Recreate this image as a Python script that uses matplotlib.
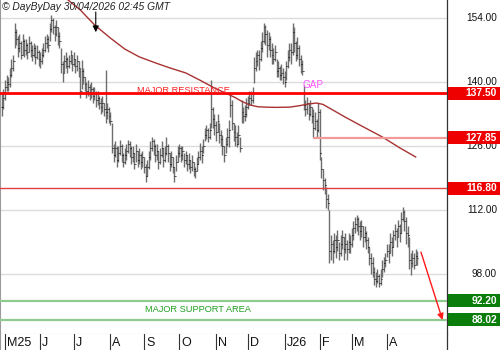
import matplotlib
matplotlib.use("Agg")
import matplotlib.pyplot as plt
import matplotlib.transforms as mtransforms
from matplotlib.patches import Rectangle
import pandas as pd

plt.rcParams['font.family'] = ['Liberation Sans', 'DejaVu Sans']

# ---------------- data ----------------
start_date = "2025-04-29"

closes = [
    134.5, 136.5, 139.0, 140.0, 139.5, 141.5, 143.0, 144.5,
    151.0, 149.5, 147.5, 148.5, 146.0, 149.0, 147.0, 148.0, 146.5, 148.5, 147.0,
    146.0, 147.5, 145.5, 146.5, 145.0, 144.5,
    146.0, 147.0, 148.5, 149.5, 148.0,
    151.5, 153.5, 152.0, 150.5, 152.0, 150.0, 149.0,
    144.0, 142.0, 144.5,
    145.0, 143.5, 144.5, 146.0, 144.0, 145.0, 143.5, 144.5, 143.0,
    138.0, 142.5, 141.0,
    139.5, 138.0, 139.0, 137.5, 138.5, 137.0, 137.5,
    136.0, 136.5, 135.5, 134.5, 135.5, 134.0,
    133.5, 134.0, 132.5, 131.5,
    125.5, 124.0, 125.5, 123.0, 124.5, 126.0, 124.0, 122.5, 124.0,
    125.0, 126.5, 125.5, 123.5, 124.5, 122.0, 125.0, 123.0, 124.0,
    122.5, 123.5, 121.5, 119.5, 121.5, 123.5,
    125.5, 127.0, 126.0, 124.0, 125.0, 122.5, 124.0, 125.5, 123.0, 124.5,
    126.0, 124.5, 122.0, 123.5, 121.5, 119.5,
    122.5, 124.5, 125.5, 124.0, 125.0, 123.0, 124.0,
    122.0, 123.0, 121.5, 122.5, 121.0, 120.5,
    122.0, 123.5, 125.0, 124.0, 126.0, 128.5, 129.5, 128.0, 129.5,
    134.0, 132.0, 130.5, 129.0, 131.5, 128.5, 127.5,
    126.0, 124.0, 126.5, 128.0, 129.5,
    135.0, 131.0, 129.0, 128.0, 126.5, 128.5, 125.5,
    133.5, 132.5, 133.0, 134.5, 135.5, 136.5, 136.0, 137.5,
    143.0, 144.5, 146.0, 145.0, 147.5, 149.0, 152.0, 150.5,
    148.0, 149.5, 147.0, 146.0, 145.0, 146.5,
    142.5, 143.0, 141.5, 142.0, 141.0, 140.0,
    143.5, 145.5, 147.0, 146.5, 151.0, 148.5, 146.0, 147.5, 145.0, 144.0, 142.5,
    135.0, 134.0, 135.5, 133.0, 134.5, 132.5, 130.0, 131.5, 129.5, 133.5,
    124.5, 121.0, 118.5, 117.5, 114.5, 113.5,
    103.0, 104.5, 103.0, 105.5, 104.0, 105.5, 102.5, 104.5, 106.0, 103.5, 104.5, 103.5, 105.0, 104.5,
    106.5, 108.0, 109.0, 110.0, 108.5, 107.5, 108.5, 106.0, 107.0, 105.5, 104.0,
    101.5, 100.5, 98.5, 97.0, 96.5, 97.5, 96.0, 97.0, 99.0, 100.5, 101.0,
    103.0, 102.5, 105.0, 104.0, 106.5, 107.5, 106.0, 108.5, 107.0,
    110.0, 111.5, 109.5, 107.0, 106.5, 101.0, 100.5, 101.5, 100.0, 102.0, 101.5,
]

highs = [
    137.5, 138.5, 140.5, 141.5, 141.0, 143.0, 145.0, 146.0,
    153.0, 151.5, 150.0, 150.5, 149.0, 150.5, 149.5, 149.5, 148.5, 150.0, 149.0,
    148.0, 148.5, 148.0, 148.0, 147.0, 146.5,
    147.5, 148.5, 150.0, 150.5, 150.0,
    153.0, 154.7, 154.0, 152.5, 153.5, 152.0, 151.0,
    147.5, 144.5, 146.0,
    146.5, 145.5, 146.0, 147.0, 146.0, 146.5, 145.0, 146.0, 144.5,
    143.0, 144.8, 143.0,
    141.0, 140.0, 140.5, 139.5, 140.0, 139.0, 139.0,
    138.0, 138.0, 137.0, 136.5, 137.0, 135.5,
    142.6, 135.5, 134.5, 133.5,
    131.0, 126.5, 127.0, 126.0, 126.0, 127.3, 126.5, 124.5, 125.5,
    126.5, 127.3, 127.0, 126.0, 126.0, 124.5, 126.5, 125.0, 125.5,
    124.5, 125.0, 123.5, 122.0, 123.0, 125.0,
    127.0, 128.0, 127.5, 126.5, 126.5, 125.0, 125.5, 127.0, 125.5, 126.0,
    128.0, 126.5, 124.5, 125.0, 123.5, 121.5,
    124.0, 126.0, 126.5, 126.0, 126.0, 124.5, 125.0,
    124.0, 124.5, 123.0, 124.0, 122.5, 121.5,
    123.5, 125.0, 126.7, 126.0, 127.5, 130.0, 130.6, 130.0, 131.0,
    140.4, 134.5, 133.0, 131.5, 133.0, 131.0, 129.5,
    128.5, 126.0, 128.0, 130.0, 131.7,
    137.6, 136.0, 131.0, 130.5, 129.0, 130.5, 128.0,
    136.0, 134.5, 135.0, 136.5, 137.0, 138.0, 138.0, 139.0,
    145.5, 146.5, 147.0, 147.0, 149.0, 151.0, 153.0, 152.5,
    151.4, 151.0, 150.0, 148.5, 147.5, 148.0,
    145.0, 144.5, 143.5, 144.0, 143.0, 142.5,
    144.5, 147.0, 148.5, 148.5, 153.0, 152.0, 149.0, 149.8, 148.0, 146.0, 144.8,
    139.3, 136.0, 136.7, 135.5, 136.0, 134.5, 134.0, 133.5, 132.0, 135.4,
    134.0, 123.6, 121.0, 119.0, 117.0, 115.5,
    112.0, 106.5, 105.5, 107.0, 106.5, 107.6, 105.0, 106.5, 107.6, 106.0, 107.0, 105.5, 107.0, 106.5,
    108.0, 109.5, 110.5, 110.9, 110.5, 109.5, 109.8, 108.5, 108.5, 107.5, 106.0,
    104.0, 102.5, 101.7, 99.5, 98.5, 99.0, 98.0, 99.0, 101.0, 101.7, 102.5,
    104.5, 104.5, 107.0, 106.0, 107.6, 109.0, 108.0, 109.8, 109.0,
    111.5, 112.7, 112.0, 110.5, 108.5, 106.0, 102.5, 103.2, 102.5, 103.5, 103.0,
]

lows = [
    132.5, 134.0, 136.0, 138.0, 138.0, 139.0, 141.0, 142.5,
    147.5, 148.0, 145.5, 146.5, 145.0, 146.0, 145.5, 146.0, 145.0, 146.5, 145.5,
    144.5, 145.5, 144.0, 145.0, 143.5, 143.0,
    144.0, 145.5, 146.5, 147.5, 146.5,
    149.0, 151.0, 150.5, 149.0, 150.0, 148.0, 147.5,
    142.0, 140.0, 142.0,
    143.0, 142.0, 143.0, 144.0, 142.5, 143.5, 142.0, 142.5, 141.0,
    136.5, 138.5, 139.5,
    138.0, 136.5, 137.0, 136.0, 136.5, 135.5, 136.0,
    134.5, 135.0, 134.0, 133.0, 133.5, 132.5,
    131.0, 132.0, 131.0, 130.5,
    124.5, 122.5, 123.5, 121.5, 122.5, 124.0, 122.5, 121.5, 122.0,
    123.0, 124.5, 123.5, 122.0, 122.5, 121.0, 122.5, 121.5, 122.0,
    121.0, 121.5, 120.0, 118.1, 119.5, 121.0,
    123.0, 125.0, 124.0, 122.5, 123.0, 121.0, 122.0, 123.5, 121.5, 122.5,
    124.0, 122.5, 120.5, 121.5, 120.0, 118.1,
    120.5, 122.5, 123.5, 122.5, 123.0, 121.5, 122.0,
    120.5, 121.0, 120.0, 120.5, 119.5, 119.0,
    120.5, 122.0, 123.0, 122.3, 124.5, 127.0, 127.5, 126.9, 127.5,
    130.0, 130.0, 128.5, 127.0, 129.0, 126.7, 126.0,
    124.0, 122.5, 124.5, 126.0, 125.8,
    132.3, 129.5, 127.0, 126.0, 125.8, 126.5, 124.7,
    131.0, 131.0, 131.5, 132.3, 134.0, 135.0, 135.0, 135.5,
    139.8, 142.5, 143.5, 142.6, 144.5, 146.5, 148.5, 148.0,
    145.5, 147.0, 145.5, 144.0, 144.0, 144.5,
    141.0, 141.0, 140.4, 140.5, 139.5, 138.9,
    140.5, 143.0, 144.5, 144.0, 146.0, 146.5, 144.5, 145.0, 143.5, 142.0, 141.5,
    133.9, 132.5, 133.0, 131.7, 132.5, 131.0, 128.0, 129.5, 128.0, 129.0,
    123.0, 119.0, 116.4, 115.5, 112.5, 112.0,
    100.4, 101.0, 100.5, 102.5, 101.5, 103.0, 101.0, 102.0, 103.5, 101.0, 102.5, 101.0, 102.6, 102.5,
    104.0, 105.5, 107.0, 107.5, 106.5, 105.5, 106.0, 104.0, 105.0, 103.5, 102.6,
    100.0, 98.0, 97.3, 95.5, 95.2, 96.0, 95.2, 95.5, 97.3, 98.5, 99.5,
    101.7, 100.5, 102.5, 102.0, 104.0, 105.5, 104.0, 106.0, 105.0,
    107.0, 109.5, 107.5, 104.5, 104.0, 99.0, 97.8, 99.5, 99.0, 100.0, 100.0,
]

# moving average (bar index, value)
ma_idx = [36, 43, 49, 58, 68, 77, 86, 96, 105, 115, 124, 133, 140, 146, 150, 155,
          160, 165, 172, 180, 186, 192, 197, 201, 205, 210, 215, 224, 231, 238, 244,
          249, 259]
ma_val = [159.5, 157.5, 155.8, 152.5, 149.6, 147.2, 145.5, 144.2, 143.1, 142.0, 140.4,
          138.7, 137.6, 136.6, 135.8, 135.0, 134.6, 134.5, 134.45, 134.5, 134.8, 135.2,
          135.4, 135.1, 134.3, 133.3, 132.3, 130.6, 129.3, 128.0, 126.7, 125.6, 123.6]

grid_levels = [98, 112, 126, 140, 154]
resistance = 137.50
level_2 = 127.85
level_3 = 116.80
support_hi = 92.20
support_lo = 88.02
month_labels = ['M25', 'J', 'J', 'A', 'S', 'O', 'N', 'D', 'J26', 'F', 'M', 'A']

# ---------------- figure ----------------
W, H = 500, 350
fig = plt.figure(figsize=(W / 100, H / 100), dpi=100)
fig.patch.set_facecolor('white')

plot_right = 447
strip_h = 16
ax = fig.add_axes([0, strip_h / H, plot_right / W, (H - strip_h) / H])
axs = fig.add_axes([0, 0, plot_right / W, strip_h / H], sharex=ax)

n = len(closes)
dates = pd.bdate_range(start_date, periods=n)
x = list(range(n))

ax.set_xlim(-1.13, 278.6)
ax.set_ylim(84.875, 157.94)

for g in grid_levels:
    ax.axhline(g, color='#dcdcdc', lw=1.0, zorder=0)

# OHLC bars
opens = [closes[0]] + closes[:-1]
ax.vlines(x, lows, highs, color='#6e6e6e', lw=1.0, zorder=3)
ax.hlines(opens, [i - 0.6 for i in x], x, color='#1a1a1a', lw=0.6, zorder=3)
ax.hlines(closes, x, [i + 0.6 for i in x], color='#1a1a1a', lw=0.6, zorder=3)

# moving average
ax.plot(ma_idx, ma_val, color='#a83232', lw=1.0, zorder=4, solid_joinstyle='round')

# horizontal levels
ax.axhline(resistance, color='#ff0000', lw=2.0, zorder=5)
ax.hlines(level_2, 194.7, 278.6, color='#f29a9a', lw=1.6, zorder=5)
ax.axhline(level_3, color='#e04040', lw=1.0, zorder=5)
ax.axhline(support_hi, color='#8fcb8f', lw=1.6, zorder=5)
ax.axhline(support_lo, color='#8fcb8f', lw=1.6, zorder=5)

ax.text(84.6, 137.62, 'MAJOR RESISTANCE', color='#ff2020', fontsize=6.7,
        va='baseline', ha='left', zorder=6)
ax.text(89.6, 89.7, 'MAJOR SUPPORT AREA', color='#22a022', fontsize=6.7,
        va='baseline', ha='left', zorder=6)
ax.text(188.3, 138.75, 'GAP', color='#ff55ff', fontsize=7.2,
        va='baseline', ha='left', zorder=6)

# arrows
ax.annotate('', xy=(58.8, 150.9), xytext=(58.8, 155.3),
            arrowprops=dict(arrowstyle='-|>', color='black', lw=0.8,
                            mutation_scale=9, shrinkA=0, shrinkB=0), zorder=7)
ax.annotate('', xy=(275.8, 87.94), xytext=(262.3, 102.8),
            arrowprops=dict(arrowstyle='-|>', color='#ff1a1a', lw=1.0,
                            mutation_scale=9, shrinkA=0, shrinkB=0), zorder=7)

ax.set_xticks([])
ax.set_yticks([])
ax.spines['top'].set_visible(False)
ax.spines['left'].set_color('#9a9a9a')
ax.spines['bottom'].set_color('#b8b8b8')
ax.spines['right'].set_color('#333333')
ax.spines['right'].set_linewidth(0.9)

# right side labels
bt = mtransforms.blended_transform_factory(fig.transFigure, ax.transData)
for g in grid_levels:
    ax.text(497 / W, g, f'{g:.2f}', transform=bt, ha='right', va='center',
            fontsize=7.2, color='#111111', clip_on=False)

box_h = 13 / ((H - strip_h) / (157.94 - 84.875))
for val, col in [(resistance, '#ee0000'), (level_2, '#ee0000'), (level_3, '#ee0000'),
                 (support_hi, '#0a7d0a'), (support_lo, '#0a7d0a')]:
    r = Rectangle((448 / W, val - box_h / 2), 1 - 448 / W, box_h, transform=bt,
                  facecolor=col, edgecolor='none', clip_on=False, zorder=8)
    fig.add_artist(r)
    t = fig.text(497 / W, val, f'{val:.2f}', ha='right', va='center',
                 fontsize=7.4, color='white', fontweight='bold', zorder=9)
    t.set_transform(bt)

# month strip
axs.set_ylim(0, 1)
axs.set_yticks([])
axs.tick_params(axis='x', length=0, labelbottom=False)
month_starts = [i for i in range(1, n) if dates[i].month != dates[i - 1].month]
for i, lab in zip(month_starts, month_labels):
    axs.axvline(i, color='#333333', lw=0.8)
    axs.text(i + 1.2, 0.42, lab, ha='left', va='center', fontsize=9, color='#111111')
axs.spines['top'].set_visible(False)
axs.spines['bottom'].set_visible(False)
axs.spines['left'].set_color('#9a9a9a')
axs.spines['right'].set_color('#333333')
axs.spines['right'].set_linewidth(0.9)

fig.text(2 / W, 1 - 1.5 / H, '\u00a9 DayByDay 30/04/2026 02:45 GMT', ha='left', va='top',
         fontsize=7.4, style='italic', color='#222222')

fig.savefig('out.png', dpi=100)
